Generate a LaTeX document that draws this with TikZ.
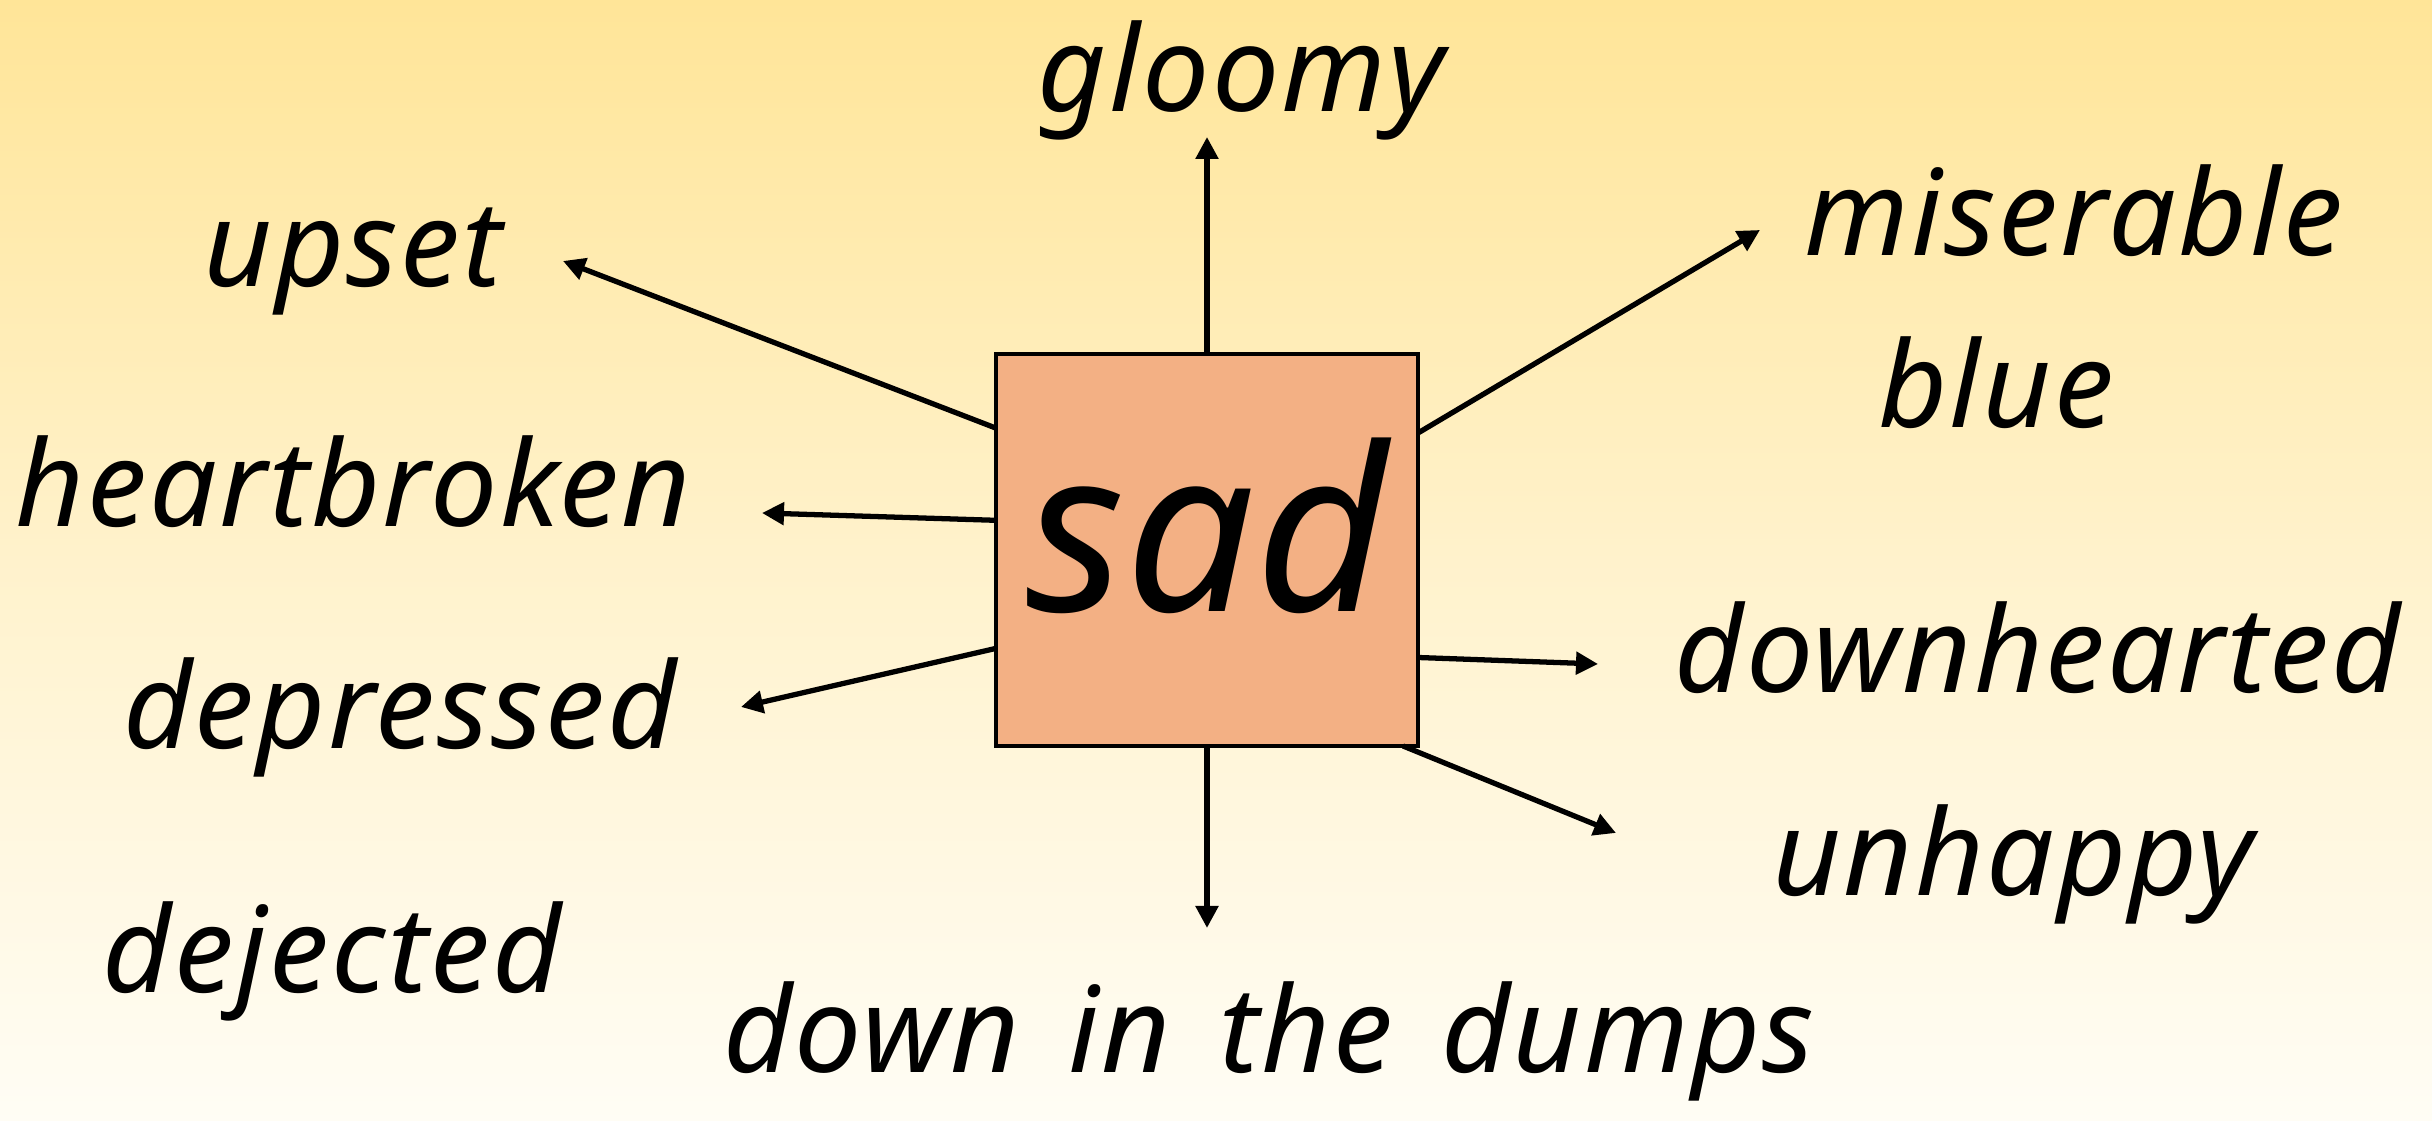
\documentclass[tikz,border=0pt]{standalone}
\usepackage{fontspec}
\setmainfont{Noto Sans}
\newfontfamily\wordfont{Noto Sans}[ItalicFeatures={LetterSpace=2, WordSpace=1.45}]
\usepackage{tikz}
\usetikzlibrary{arrows.meta}

\definecolor{bgtop}{RGB}{255,229,152}
\definecolor{bgmid}{RGB}{255,242,204}
\definecolor{bgbot}{RGB}{255,253,245}
\definecolor{boxfill}{RGB}{243,176,132}

\begin{document}
\begin{tikzpicture}[
        word/.style={anchor=base, inner sep=0pt, font=\wordfont\itshape\fontsize{34}{40}\selectfont},
        centre/.style={draw=black, fill=boxfill, line width=1.4pt, minimum width=4.22cm, minimum height=3.92cm,
            inner sep=0pt, outer sep=0pt, text height=1.8cm, text depth=0.56cm, font=\itshape\fontsize{65}{72}\selectfont},
        link/.style={-{Triangle[length=2.2mm, width=2.2mm]}, line width=1.5pt}
    ]
        % Background
        \shade[top color=bgtop, bottom color=bgbot, middle color=bgmid] (0, 0) rectangle (24.32, 11.21);
        \useasboundingbox (0, 0) rectangle (24.32, 11.21);

        % Nodes
        \node[centre] (sad) at (12.07, 5.71) {sad};
        \node[word] (gloomy) at (12.41, 10.09) {gloomy};
        \node[word] (upset) at (3.53, 8.34) {upset};
        \node[word] (miserable) at (20.74, 8.65) {miserable};
        \node[word] (blue) at (19.96, 6.93) {blue};
        \node[word] (heartbroken) at (3.53, 5.94) {heartbroken};
        \node[word] (downhearted) at (20.38, 4.28) {downhearted};
        \node[word] (depressed) at (4.00, 3.72) {depressed};
        \node[word] (unhappy) at (20.13, 2.25) {unhappy};
        \node[word] (dejected) at (3.32, 1.28) {dejected};
        \node[word] (dumps) at (12.69, 0.48) {down in the dumps};

        % Arrow tips
        \coordinate (gloomy-tip) at (12.07, 9.84);
        \coordinate (upset-tip) at (5.63, 8.60);
        \coordinate (heartbroken-tip) at (7.62, 6.08);
        \coordinate (depressed-tip) at (7.41, 4.14);
        \coordinate (miserable-tip) at (17.60, 8.91);
        \coordinate (downhearted-tip) at (15.98, 4.57);
        \coordinate (unhappy-tip) at (16.16, 2.88);
        \coordinate (dumps-tip) at (12.07, 1.93);

        % Edges
        \draw[link] (sad.north) -- (gloomy-tip);
        \draw[link] (sad.150.3) -- (upset-tip);
        \draw[link] (sad.172) -- (heartbroken-tip);
        \draw[link] (sad.205.2) -- (depressed-tip);
        \draw[link] (sad.29.9) -- (miserable-tip);
        \draw[link] (sad.333.4) -- (downhearted-tip);
        \draw[link] (sad.315.4) -- (unhappy-tip);
        \draw[link] (sad.south) -- (dumps-tip);

    \end{tikzpicture}
\end{document}
